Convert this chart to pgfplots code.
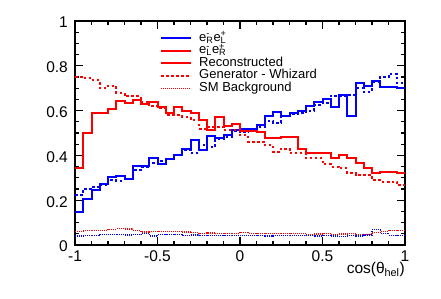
\documentclass[border=0pt]{standalone}
\usepackage{fontspec}
\setmainfont{Liberation Sans}
\usepackage{pgfplots}
\usepackage{pgfplotstable}
\pgfplotsset{compat=1.18}
\newcommand{\ee}[4]{e\rlap{\textsuperscript{#1}}\textsubscript{#2}e\rlap{\textsuperscript{#3}}\textsubscript{#4}}
\pgfplotstableread{
x rs rg bs bgen rbk bbk
-1.00 0.345 0.750 0.149 0.225 0.062 0.040
-0.95 0.500 0.745 0.204 0.250 0.064 0.042
-0.90 0.590 0.735 0.245 0.260 0.066 0.044
-0.85 0.590 0.700 0.271 0.270 0.066 0.046
-0.80 0.607 0.710 0.303 0.290 0.070 0.046
-0.75 0.645 0.680 0.308 0.287 0.072 0.047
-0.70 0.633 0.665 0.295 0.293 0.071 0.045
-0.65 0.647 0.665 0.353 0.335 0.066 0.046
-0.60 0.630 0.640 0.353 0.347 0.058 0.050
-0.55 0.640 0.620 0.387 0.365 0.060 0.040
-0.50 0.617 0.610 0.362 0.375 0.061 0.048
-0.45 0.590 0.580 0.382 0.382 0.062 0.046
-0.40 0.617 0.580 0.400 0.400 0.061 0.046
-0.35 0.597 0.573 0.430 0.424 0.058 0.044
-0.30 0.590 0.558 0.469 0.410 0.055 0.045
-0.25 0.558 0.520 0.424 0.446 0.052 0.043
-0.20 0.513 0.528 0.487 0.436 0.054 0.042
-0.15 0.570 0.528 0.476 0.472 0.050 0.044
-0.10 0.531 0.513 0.491 0.480 0.052 0.041
-0.05 0.538 0.513 0.515 0.510 0.051 0.043
0.00 0.510 0.491 0.516 0.506 0.056 0.042
0.05 0.508 0.461 0.516 0.510 0.053 0.041
0.10 0.506 0.461 0.536 0.525 0.052 0.042
0.15 0.476 0.446 0.576 0.553 0.050 0.040
0.20 0.476 0.417 0.595 0.546 0.051 0.042
0.25 0.481 0.430 0.576 0.576 0.053 0.041
0.30 0.481 0.410 0.588 0.585 0.052 0.043
0.35 0.430 0.410 0.600 0.590 0.050 0.041
0.40 0.410 0.387 0.620 0.600 0.048 0.042
0.45 0.410 0.387 0.640 0.625 0.049 0.040
0.50 0.410 0.360 0.650 0.635 0.050 0.044
0.55 0.387 0.350 0.617 0.665 0.048 0.040
0.60 0.400 0.342 0.670 0.665 0.049 0.039
0.65 0.390 0.323 0.576 0.670 0.050 0.041
0.70 0.365 0.313 0.725 0.700 0.048 0.040
0.75 0.342 0.313 0.710 0.684 0.047 0.045
0.80 0.320 0.290 0.733 0.729 0.055 0.068
0.85 0.327 0.283 0.707 0.749 0.062 0.052
0.90 0.327 0.283 0.707 0.765 0.066 0.044
0.95 0.323 0.268 0.700 0.725 0.066 0.042
1.00 0.323 0.268 0.700 0.725 0.066 0.042
}\data
\begin{document}
\begin{tikzpicture}
\begin{axis}[
  name=ax,
  scale only axis,
  width=330pt, height=224pt,
  xmin=-1, xmax=1, ymin=0, ymax=1,
  xtick={-1,-0.5,0,0.5,1},
  ytick={0,0.2,0.4,0.6,0.8,1},
  minor x tick num=4,
  minor y tick num=3,
  tick pos=both,
  xticklabel pos=left, yticklabel pos=left,
  tick align=inside,
  major tick length=8pt, minor tick length=4pt,
  axis line style={line width=1.5pt},
  every tick/.style={black, line width=1.2pt},
  /pgf/number format/assume math mode=true,
  ticklabel style={font=\fontsize{15.5}{16}\selectfont},
  xticklabel style={inner sep=0pt, anchor=north, yshift=-5.5pt},
  yticklabel style={inner sep=0pt, anchor=east, xshift=-7pt, yshift=-1.5pt},
  xlabel={cos(θ\textsubscript{hel})},
  xlabel style={at={(axis description cs:1,0)}, anchor=north east, inner sep=0pt, yshift=-17pt, font=\fontsize{15.5}{16}\selectfont},
  legend style={at={(axis description cs:0.2576,0.948)}, anchor=north west, draw=none, fill=none, inner sep=0pt,
    font=\fontsize{13}{13}\selectfont,
    nodes={inner sep=0pt, text height=8.5pt, text depth=2.5pt},
    row sep=1.5pt, column sep=0pt},
  legend cell align=left,
  legend image code/.code={\draw[#1] (0pt,0pt) -- (30pt,0pt); \path (37pt,0pt);},
]
\addplot[const plot, blue, line width=2pt, forget plot] table[x=x, y=bs] {\data};
\addplot[const plot, blue, line width=2pt, dash pattern=on 2.5pt off 2.5pt, forget plot] table[x=x, y=bgen] {\data};
\addplot[const plot, blue, line width=1.2pt, dash pattern=on 1pt off 1pt, forget plot] table[x=x, y=bbk] {\data};
\addplot[const plot, red, line width=2pt, forget plot] table[x=x, y=rs] {\data};
\addplot[const plot, red, line width=2pt, dash pattern=on 2.5pt off 2.5pt, forget plot] table[x=x, y=rg] {\data};
\addplot[const plot, red, line width=1.2pt, dash pattern=on 1pt off 1pt, forget plot] table[x=x, y=rbk] {\data};
\addlegendimage{blue, line width=2pt}
\addlegendentry{\ee{-}{R}{+}{L}}
\addlegendimage{red, line width=2pt}
\addlegendentry{\ee{-}{L}{+}{R}}
\addlegendimage{red, line width=2pt}
\addlegendentry{Reconstructed}
\addlegendimage{red, line width=2pt, dash pattern=on 2.5pt off 2.5pt}
\addlegendentry{Generator - Whizard}
\addlegendimage{red, line width=1.2pt, dash pattern=on 1pt off 1pt}
\addlegendentry{SM Background}
\end{axis}
\pgfresetboundingbox
\path[use as bounding box] ([shift={(-75pt,-54pt)}]ax.south west) rectangle ([shift={(36pt,21pt)}]ax.north east);
\end{tikzpicture}
\end{document}
